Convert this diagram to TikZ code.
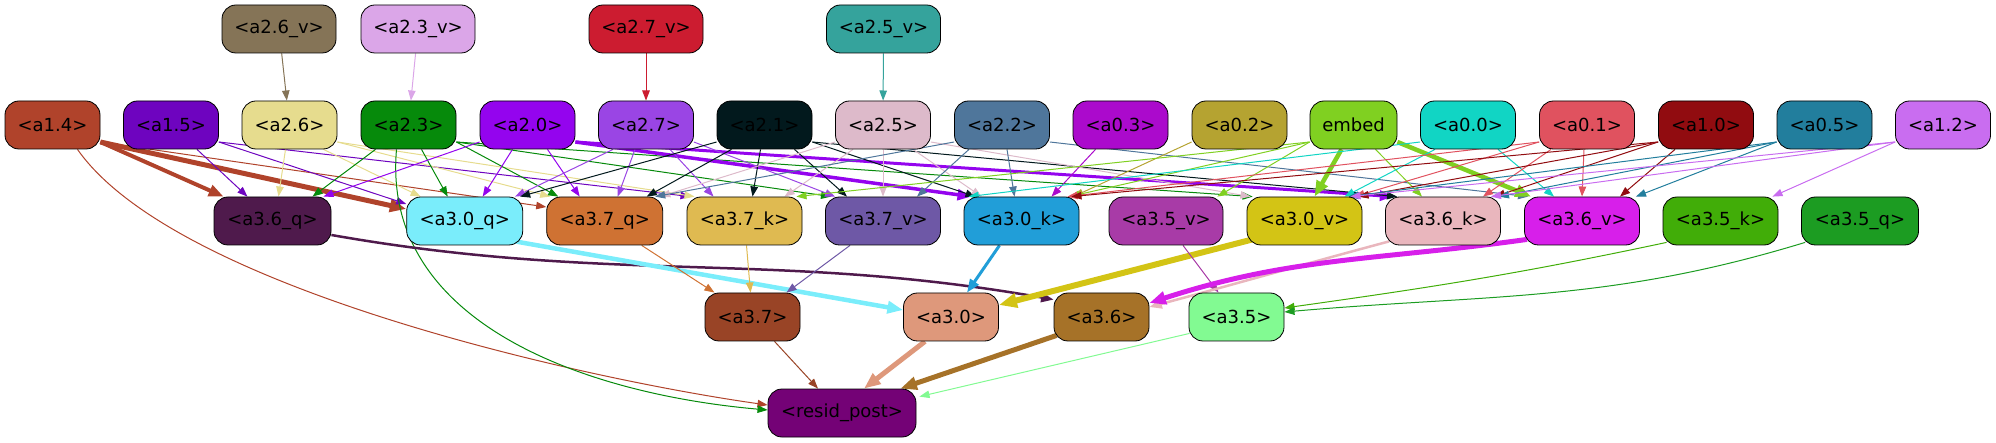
\documentclass[tikz,border=0pt]{standalone}
\usepackage{fontspec}
\setmainfont{DejaVu Sans}
\usetikzlibrary{arrows.meta}
\pgfdeclarelayer{background}
\pgfsetlayers{background,main}
\definecolor{c26v}{HTML}{857457}\definecolor{c23v}{HTML}{DBA6E8}\definecolor{c27v}{HTML}{CC1C30}\definecolor{c25v}{HTML}{35A39C}
\definecolor{c14}{HTML}{B0432B}\definecolor{c15}{HTML}{6E04BF}\definecolor{c26}{HTML}{E6DC8E}\definecolor{c23}{HTML}{068A0B}
\definecolor{c20}{HTML}{9404EE}\definecolor{c27}{HTML}{9A45E4}\definecolor{c21}{HTML}{02191D}\definecolor{c25}{HTML}{DDBACA}
\definecolor{c22}{HTML}{4F769B}\definecolor{c03}{HTML}{AB0ACC}\definecolor{c02}{HTML}{B5A331}\definecolor{cemb}{HTML}{80D021}
\definecolor{c00}{HTML}{11D5C4}\definecolor{c01}{HTML}{E0525F}\definecolor{c10}{HTML}{910C10}\definecolor{c05}{HTML}{227E9D}
\definecolor{c12}{HTML}{C96DF0}
\definecolor{c36q}{HTML}{4F1A4C}\definecolor{c30q}{HTML}{7AEDFB}\definecolor{c37q}{HTML}{CF7233}\definecolor{c37k}{HTML}{DFBA51}
\definecolor{c37v}{HTML}{6E58A6}\definecolor{c30k}{HTML}{219ED8}\definecolor{c35v}{HTML}{A83BA7}\definecolor{c30v}{HTML}{D3C415}
\definecolor{c36k}{HTML}{E9B6BD}\definecolor{c36v}{HTML}{D71FEA}\definecolor{c35k}{HTML}{41AD08}\definecolor{c35q}{HTML}{1C9C22}
\definecolor{c37}{HTML}{994426}\definecolor{c30}{HTML}{DE987B}\definecolor{c36}{HTML}{A67228}\definecolor{c35}{HTML}{82FA92}
\definecolor{crp}{HTML}{740276}
\tikzset{
 nd/.style={draw=black, line width=0.8pt, rounded corners=14pt, minimum height=48pt, inner sep=0pt, font=\fontsize{18pt}{21pt}\selectfont},
 ed/.style={draw=#1, line width=1pt, -{Triangle[length=8.5pt 1.6, width=6.2pt 1.3]}},
}
\begin{document}
\begin{tikzpicture}[x=1pt,y=1pt]
\useasboundingbox (0,0) rectangle (1996,-443);
% row 1
\node[nd, fill=c26v, minimum width=114pt] (a26v) at (279,-29) {<a2.6\_v>};
\node[nd, fill=c23v, minimum width=114pt] (a23v) at (418,-29) {<a2.3\_v>};
\node[nd, fill=c27v, minimum width=114pt] (a27v) at (646,-29) {<a2.7\_v>};
\node[nd, fill=c25v, minimum width=114pt] (a25v) at (883.5,-29) {<a2.5\_v>};
% row 2
\node[nd, fill=c14, minimum width=95pt] (a14) at (52.5,-125) {<a1.4>};
\node[nd, fill=c15, minimum width=95pt] (a15) at (171,-125) {<a1.5>};
\node[nd, fill=c26, minimum width=95pt] (a26) at (289.5,-125) {<a2.6>};
\node[nd, fill=c23, minimum width=95pt] (a23) at (408.5,-125) {<a2.3>};
\node[nd, fill=c20, minimum width=95pt] (a20) at (527.5,-125) {<a2.0>};
\node[nd, fill=c27, minimum width=95pt] (a27) at (646,-125) {<a2.7>};
\node[nd, fill=c21, minimum width=95pt] (a21) at (764.5,-125) {<a2.1>};
\node[nd, fill=c25, minimum width=95pt] (a25) at (883,-125) {<a2.5>};
\node[nd, fill=c22, minimum width=95pt] (a22) at (1002,-125) {<a2.2>};
\node[nd, fill=c03, minimum width=95pt] (a03) at (1120.5,-125) {<a0.3>};
\node[nd, fill=c02, minimum width=95pt] (a02) at (1239.5,-125) {<a0.2>};
\node[nd, fill=cemb, minimum width=87pt] (emb) at (1353.5,-125) {embed};
\node[nd, fill=c00, minimum width=95pt] (a00) at (1468,-125) {<a0.0>};
\node[nd, fill=c01, minimum width=95pt] (a01) at (1587,-125) {<a0.1>};
\node[nd, fill=c10, minimum width=95pt] (a10) at (1706,-125) {<a1.0>};
\node[nd, fill=c05, minimum width=95pt] (a05) at (1824.5,-125) {<a0.5>};
\node[nd, fill=c12, minimum width=95pt] (a12) at (1943,-125) {<a1.2>};
% row 3
\node[nd, fill=c36q, minimum width=117pt] (a36q) at (272.5,-221) {<a3.6\_q>};
\node[nd, fill=c30q, minimum width=116pt] (a30q) at (464.7,-221) {<a3.0\_q>};
\node[nd, fill=c37q, minimum width=116pt] (a37q) at (604.7,-221) {<a3.7\_q>};
\node[nd, fill=c37k, minimum width=115pt] (a37k) at (744.5,-221) {<a3.7\_k>};
\node[nd, fill=c37v, minimum width=115pt] (a37v) at (883,-221) {<a3.7\_v>};
\node[nd, fill=c30k, minimum width=115pt] (a30k) at (1021.5,-221) {<a3.0\_k>};
\node[nd, fill=c35v, minimum width=114pt] (a35v) at (1166,-221) {<a3.5\_v>};
\node[nd, fill=c30v, minimum width=115pt] (a30v) at (1304.5,-221) {<a3.0\_v>};
\node[nd, fill=c36k, minimum width=115pt] (a36k) at (1443,-221) {<a3.6\_k>};
\node[nd, fill=c36v, minimum width=115pt] (a36v) at (1582,-221) {<a3.6\_v>};
\node[nd, fill=c35k, minimum width=115pt] (a35k) at (1720.5,-221) {<a3.5\_k>};
\node[nd, fill=c35q, minimum width=117pt] (a35q) at (1860,-221) {<a3.5\_q>};
% row 4
\node[nd, fill=c37, minimum width=95pt] (a37) at (752.5,-317) {<a3.7>};
\node[nd, fill=c30, minimum width=95pt] (a30) at (951,-317) {<a3.0>};
\node[nd, fill=c36, minimum width=95pt] (a36) at (1101.5,-317) {<a3.6>};
\node[nd, fill=c35, minimum width=95pt] (a35) at (1236.5,-317) {<a3.5>};
% row 5
\node[nd, fill=crp, minimum width=148pt] (rp) at (842,-413) {<resid\_post>};

\begin{pgfonlayer}{background}
% top -> row 2
\draw[ed=c26v] (a26v) -- (a26);
\draw[ed=c23v] (a23v) -- (a23);
\draw[ed=c27v] (a27v) -- (a27);
\draw[ed=c25v] (a25v) -- (a25);
% a1.4
\draw[ed=c14, line width=4pt] ([yshift=-17pt]a14.east) -- ([xshift=10pt]a36q.north west);
\draw[ed=c14, line width=5pt] ([yshift=-17pt]a14.east) -- ([yshift=12pt]a30q.west);
\draw[ed=c14] ([yshift=-17pt]a14.east) -- ([yshift=14pt]a37q.west);
\draw[ed=c14] ([xshift=25pt]a14.south) to[out=-55, in=172, looseness=0.6] ([yshift=8pt]rp.west);
% a1.5
\draw[ed=c15] ([xshift=26pt]a15.south) -- ([xshift=-25pt]a36q.north);
\draw[ed=c15] ([yshift=-17pt]a15.east) -- ([yshift=17pt]a30q.west);
\draw[ed=c15] ([yshift=-17pt]a15.east) -- ([xshift=4pt]a37k.north west);
% a2.6
\draw[ed=c26] ([xshift=-4pt]a26.south) -- ([xshift=6pt]a36q.north);
\draw[ed=c26] ([xshift=34pt]a26.south) -- ([xshift=-44pt]a30q.north);
\draw[ed=c26] ([yshift=-17pt]a26.east) -- ([xshift=4pt]a37q.north west);
\draw[ed=c26] ([yshift=-17pt]a26.east) -- ([xshift=8pt]a37k.north west);
% a2.3
\draw[ed=c23] ([xshift=-33pt]a23.south) -- ([xshift=40pt]a36q.north);
\draw[ed=c23] ([xshift=13pt]a23.south) -- ([xshift=-17pt]a30q.north);
\draw[ed=c23] ([yshift=-17pt]a23.east) -- ([xshift=12pt]a37q.north west);
\draw[ed=c23] ([yshift=-17pt]a23.east) -- ([xshift=6pt]a37v.north west);
\draw[ed=c23] ([yshift=-17pt]a23.east) -- ([xshift=6pt]a30v.north west);
\draw[ed=c23] ([xshift=-12pt]a23.south) to[out=-95, in=175] ([yshift=3pt]rp.west);
% a2.0
\draw[ed=c20] ([yshift=-17pt]a20.west) -- ([xshift=-8pt]a36q.north east);
\draw[ed=c20] ([xshift=-15pt]a20.south) -- ([xshift=18pt]a30q.north);
\draw[ed=c20] ([xshift=20pt]a20.south) -- ([xshift=-25pt]a37q.north);
\draw[ed=c20, line width=3.5pt] ([yshift=-17pt]a20.east) -- ([xshift=8pt]a30k.north west);
\draw[ed=c20, line width=3pt] ([yshift=-17pt]a20.east) -- ([xshift=8pt]a36k.north west);
% a2.7
\draw[ed=c27] ([xshift=-33pt]a27.south) -- ([xshift=-8pt]a30q.north east);
\draw[ed=c27] ([xshift=-11pt]a27.south) -- ([xshift=13pt]a37q.north);
\draw[ed=c27] ([xshift=24pt]a27.south) -- ([xshift=-31pt]a37k.north);
\draw[ed=c27] ([yshift=-17pt]a27.east) -- ([xshift=10pt]a37v.north west);
% a2.1
\draw[ed=c21] ([yshift=-17pt]a21.west) -- ([xshift=-3pt]a30q.north east);
\draw[ed=c21] ([xshift=-33pt]a21.south) -- ([xshift=42pt]a37q.north);
\draw[ed=c21] ([xshift=-4pt]a21.south) -- ([xshift=8pt]a37k.north);
\draw[ed=c21] ([xshift=30pt]a21.south) -- ([xshift=-36pt]a37v.north);
\draw[ed=c21] ([yshift=-17pt]a21.east) -- ([xshift=12pt]a30k.north west);
\draw[ed=c21] ([yshift=-17pt]a21.east) -- ([xshift=12pt]a36k.north west);
% a2.5
\draw[ed=c25] ([yshift=-17pt]a25.west) -- ([xshift=-3pt]a37q.north east);
\draw[ed=c25] ([xshift=-30pt]a25.south) -- ([xshift=40pt]a37k.north);
\draw[ed=c25] (a25) -- (a37v);
\draw[ed=c25] ([xshift=30pt]a25.south) -- ([xshift=-40pt]a30k.north);
\draw[ed=c25] ([yshift=-17pt]a25.east) -- ([xshift=4pt]a30v.north west);
% a2.2
\draw[ed=c22] ([yshift=-17pt]a22.west) -- ([xshift=-8pt]a37q.north east);
\draw[ed=c22] ([xshift=-33pt]a22.south) -- ([xshift=34pt]a37v.north);
\draw[ed=c22] ([xshift=5pt]a22.south) -- ([xshift=-7pt]a30k.north);
\draw[ed=c22] ([yshift=-17pt]a22.east) -- ([xshift=4pt]a36v.north west);
% a0.3, a0.2
\draw[ed=c03] ([xshift=-25pt]a03.south) -- ([xshift=30pt]a30k.north);
\draw[ed=c02] ([yshift=-17pt]a02.west) -- ([xshift=-6pt]a30k.north east);
% embed
\draw[ed=cemb] ([yshift=-17pt]emb.west) -- ([xshift=-6pt]a35v.north east);
\draw[ed=cemb] ([yshift=-17pt]emb.west) -- ([xshift=-6pt]a37k.north east);
\draw[ed=cemb] ([yshift=-17pt]emb.west) -- ([xshift=-10pt]a30k.north east);
\draw[ed=cemb] ([xshift=22pt]emb.south) -- ([xshift=-21pt]a36k.north);
\draw[ed=cemb, line width=4.5pt] ([xshift=-12pt]emb.south) -- ([xshift=10pt]a30v.north);
\draw[ed=cemb, line width=4.5pt] ([yshift=-17pt]emb.east) -- ([xshift=7pt]a36v.north west);
% a0.0
\draw[ed=c00] ([yshift=-17pt]a00.west) -- ([xshift=5pt]a30k.north west);
\draw[ed=c00] ([xshift=-33pt]a00.south) -- ([xshift=40pt]a30v.north);
\draw[ed=c00] ([xshift=30pt]a00.south) -- ([xshift=-28pt]a36v.north);
% a0.1
\draw[ed=c01] ([xshift=-3pt]a01.south) -- (a36v.north);
\draw[ed=c01] ([xshift=-36pt]a01.south) -- ([xshift=40pt]a36k.north);
\draw[ed=c01] ([yshift=-17pt]a01.west) -- ([xshift=-8pt]a30v.north east);
\draw[ed=c01] ([yshift=-17pt]a01.west) -- ([xshift=-12pt]a30k.north east);
% a1.0
\draw[ed=c10] ([xshift=-31pt]a10.south) -- ([xshift=38pt]a36v.north);
\draw[ed=c10] ([yshift=-17pt]a10.west) -- ([xshift=-6pt]a36k.north east);
\draw[ed=c10] ([yshift=-17pt]a10.west) -- ([xshift=-4pt]a30v.north east);
\draw[ed=c10] ([yshift=-17pt]a10.west) -- ([xshift=-8pt]a30k.north east);
% a0.5
\draw[ed=c05] ([yshift=-17pt]a05.west) -- ([xshift=-4pt]a36v.north east);
\draw[ed=c05] ([yshift=-17pt]a05.west) -- ([xshift=-2pt]a36k.north east);
\draw[ed=c05] ([yshift=-17pt]a05.west) -- ([xshift=-14pt]a30v.north east);
% a1.2
\draw[ed=c12] ([yshift=-17pt]a12.west) -- ([xshift=-6pt]a35k.north east);
\draw[ed=c12] ([yshift=-17pt]a12.west) -- ([xshift=-10pt]a36k.north east);
\draw[ed=c12] ([yshift=-17pt]a12.west) -- ([xshift=-12pt]a30v.north east);
% row 3 -> row 4
\draw[ed=c36q, line width=2.5pt] ([yshift=-14pt]a36q.east) to[out=-10, in=170] ([yshift=-7pt]a36.north west);
\draw[ed=c30q, line width=4.5pt] ([xshift=-8pt,yshift=4pt]a30q.south east) -- ([yshift=7pt]a30.west);
\draw[ed=c37q] ([xshift=37pt]a37q.south) -- ([xshift=-38pt]a37.north);
\draw[ed=c37k] ([xshift=2pt]a37k.south) -- ([xshift=-2pt]a37.north);
\draw[ed=c37v] ([xshift=-33pt]a37v.south) -- ([xshift=34pt]a37.north);
\draw[ed=c30k, line width=3pt] ([xshift=-22pt]a30k.south) -- ([xshift=16pt]a30.north);
\draw[ed=c30v, line width=6pt] ([xshift=6pt,yshift=6pt]a30v.south west) -- ([yshift=12pt]a30.east);
\draw[ed=c35v] ([xshift=17pt]a35v.south) -- ([xshift=-18pt]a35.north);
\draw[ed=c36k, line width=2.5pt] ([xshift=4pt,yshift=4pt]a36k.south west) to[out=-165, in=15] ([yshift=10pt]a36.east);
\draw[ed=c36v, line width=5pt] ([xshift=3pt,yshift=6pt]a36v.south west) to[out=-172, in=18] ([yshift=14pt]a36.east);
\draw[ed=c35k] ([xshift=4pt,yshift=3pt]a35k.south west) to[out=-168, in=8] ([yshift=9pt]a35.east);
\draw[ed=c35q] ([xshift=4pt,yshift=3pt]a35q.south west) to[out=-163, in=5] ([yshift=5pt]a35.east);
% row 4 -> resid_post
\draw[ed=c37] ([xshift=22pt]a37.south) -- ([xshift=-24pt]rp.north);
\draw[ed=c30, line width=5pt] ([xshift=-26pt]a30.south) -- ([xshift=22pt]rp.north);
\draw[ed=c36, line width=5pt] ([xshift=3pt,yshift=6pt]a36.south west) -- ([xshift=-16pt]rp.north east);
\draw[ed=c35] ([xshift=1pt,yshift=8pt]a35.south west) -- ([xshift=3pt,yshift=-8pt]rp.north east);
\end{pgfonlayer}
\end{tikzpicture}
\end{document}
